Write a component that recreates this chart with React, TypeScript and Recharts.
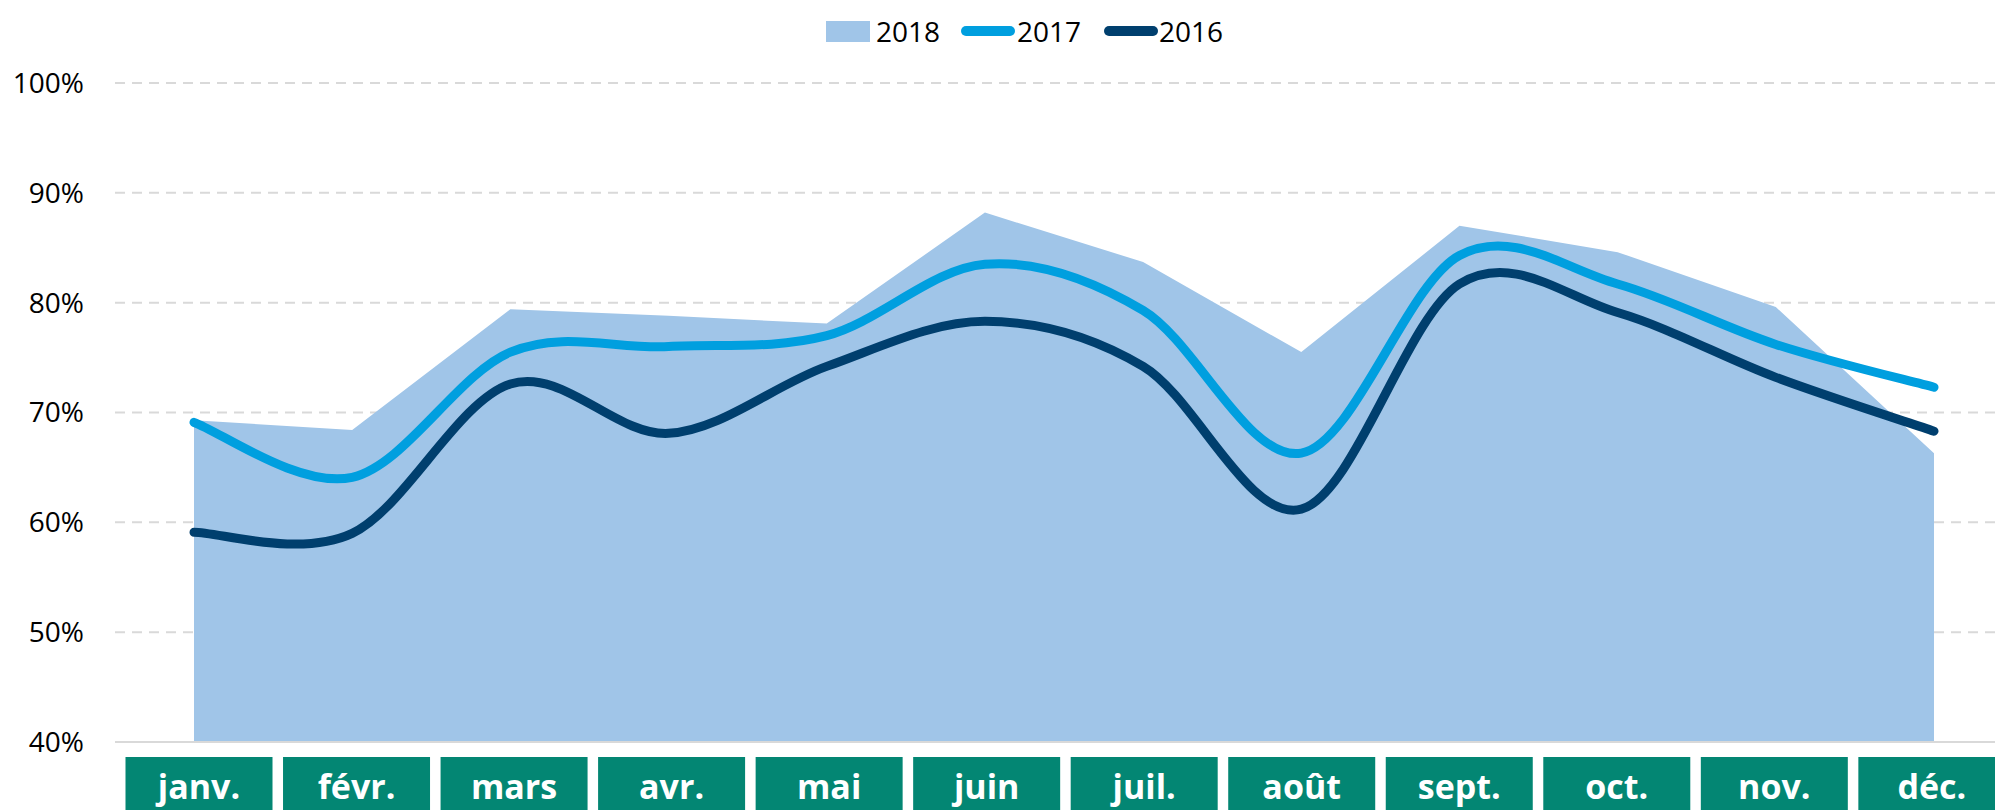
import { Area, CartesianGrid, ComposedChart, Line, XAxis, YAxis } from "recharts"

const months = ["janv.", "févr.", "mars", "avr.", "mai", "juin", "juil.", "août", "sept.", "oct.", "nov.", "déc."]
const values2018 = [69.3, 68.4, 79.4, 78.8, 78.1, 88.2, 83.7, 75.5, 87.0, 84.6, 79.6, 66.3]
const values2017 = [69.1, 64.1, 75.5, 76.0, 77.0, 83.5, 79.3, 66.3, 84.3, 81.7, 76.2, 72.3]
const values2016 = [59.1, 59.0, 72.6, 68.1, 74.2, 78.3, 74.2, 61.2, 81.7, 79.1, 73.2, 68.3]
const yTicks = [40, 50, 60, 70, 80, 90, 100]

const data = months.map((month, i) => ({
  month,
  y2018: values2018[i],
  y2017: values2017[i],
  y2016: values2016[i],
}))

const FONT = "'Open Sans', sans-serif"

// Excel-style smoothed line (Catmull-Rom as cubic Béziers)
const smoothCurve = (context: any) => {
  let pts: [number, number][] = []
  return {
    areaStart() {},
    areaEnd() {},
    lineStart() {
      pts = []
    },
    point(x: number, y: number) {
      pts.push([+x, +y])
    },
    lineEnd() {
      if (!pts.length) return
      context.moveTo(pts[0][0], pts[0][1])
      for (let i = 0; i < pts.length - 1; i++) {
        const p0 = pts[i - 1] || pts[i]
        const p1 = pts[i]
        const p2 = pts[i + 1]
        const p3 = pts[i + 2] || p2
        context.bezierCurveTo(
          p1[0] + (p2[0] - p0[0]) / 6,
          p1[1] + (p2[1] - p0[1]) / 6,
          p2[0] - (p3[0] - p1[0]) / 6,
          p2[1] - (p3[1] - p1[1]) / 6,
          p2[0],
          p2[1]
        )
      }
    },
  }
}

// label boxes sit on a slightly tighter pitch than the data points
const MonthTick = (props: any) => {
  const { x, y, payload, index } = props
  const cx = x + 5 - index * 0.65
  return (
    <g>
      <rect x={cx - 73.5} y={y} width={147} height={60} fill="#038673" />
      <text x={cx} y={y + 42} textAnchor="middle" fill="#fff" fontFamily={FONT} fontWeight={700} fontSize={34}>
        {payload.value}
      </text>
    </g>
  )
}

function Legend() {
  const text = { fontFamily: FONT, fontSize: 28, color: "#000", lineHeight: "28px" }
  return (
    <div style={{ position: "absolute", top: 17, left: 826, display: "flex", alignItems: "center", height: 28 }}>
      <div style={{ width: 44, height: 21, background: "#A0C5E8" }} />
      <span style={{ ...text, marginLeft: 6 }}>2018</span>
      <div style={{ width: 54, height: 10, borderRadius: 5, background: "#009FDF", marginLeft: 21 }} />
      <span style={{ ...text, marginLeft: 2 }}>2017</span>
      <div style={{ width: 54, height: 10, borderRadius: 5, background: "#003F6E", marginLeft: 23 }} />
      <span style={{ ...text, marginLeft: 1 }}>2016</span>
    </div>
  )
}

export default function App() {
  return (
    <div style={{ position: "fixed", left: 0, top: 0, width: 1995, height: 810, overflow: "hidden", background: "#fff" }}>
      <ComposedChart width={2013} height={810} data={data} margin={{ top: 83, right: 0, bottom: 0, left: 0 }}>
        <CartesianGrid vertical={false} stroke="#d9d9d9" strokeWidth={2} strokeDasharray="10 7" />
        <XAxis
          dataKey="month"
          scale="point"
          padding={{ left: 79, right: 79 }}
          height={68}
          interval={0}
          tickSize={0}
          tickMargin={15}
          tickLine={false}
          axisLine={{ stroke: "#d9d9d9", strokeWidth: 2 }}
          tick={<MonthTick />}
        />
        <YAxis
          domain={[40, 100]}
          ticks={yTicks}
          width={115}
          tickSize={0}
          tickMargin={31}
          tickLine={false}
          axisLine={false}
          tickFormatter={(v) => `${v}%`}
          tick={{ fill: "#000", fontSize: 28, fontFamily: FONT }}
        />
        <Area
          type="linear"
          dataKey="y2018"
          fill="#A0C5E8"
          fillOpacity={1}
          stroke="none"
          isAnimationActive={false}
        />
        <Line
          type={smoothCurve as any}
          dataKey="y2017"
          stroke="#009FDF"
          strokeWidth={9}
          strokeLinecap="round"
          dot={false}
          activeDot={false}
          isAnimationActive={false}
        />
        <Line
          type={smoothCurve as any}
          dataKey="y2016"
          stroke="#003F6E"
          strokeWidth={9}
          strokeLinecap="round"
          dot={false}
          activeDot={false}
          isAnimationActive={false}
        />
      </ComposedChart>
      <Legend />
    </div>
  )
}
